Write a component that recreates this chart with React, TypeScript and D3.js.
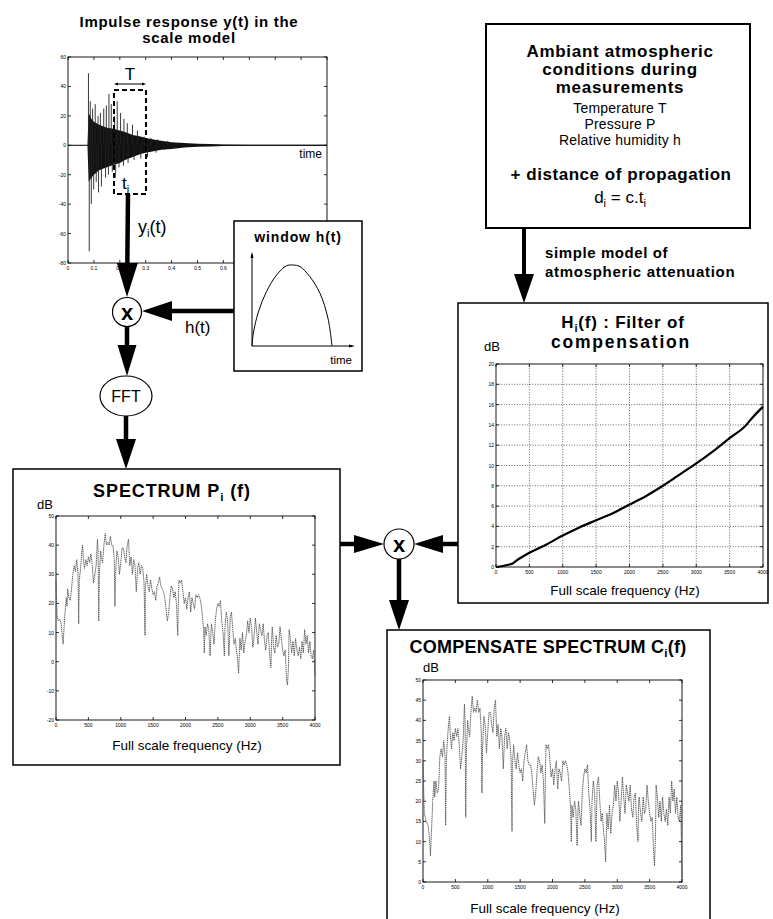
import React from 'react';
import * as d3 from 'd3';

const FONT = '"Liberation Sans", Arial, Helvetica, sans-serif';

// ---------- Data ----------
// Impulse response: dense core envelope (time s, amplitude)
const impEnvT = [0.075, 0.08, 0.09, 0.1, 0.12, 0.15, 0.18, 0.2, 0.22, 0.25, 0.28, 0.3, 0.33, 0.36, 0.4, 0.45, 0.5, 0.55, 0.6, 0.7, 0.8, 0.9, 1.0];
const impEnvUp = [0, 22, 18, 16, 14, 12, 11, 10, 9, 7, 6, 5, 4, 3, 2, 1.5, 1, 0.8, 0.5, 0.4, 0.3, 0.3, 0.3];
const impEnvLo = [0, -25, -22, -20, -17, -15, -13, -12, -10, -8, -6, -5, -4, -3, -2.5, -1.5, -1, -0.8, -0.5, -0.4, -0.3, -0.3, -0.3];
// Impulse response: individual spikes (time s, amplitude)
const impSpikes: [number, number][] = [
  [0.079, 49], [0.082, -72], [0.086, 30], [0.09, -40], [0.095, 25], [0.099, -30], [0.105, 28], [0.109, -25],
  [0.116, 20], [0.118, -32], [0.125, 22], [0.129, -28], [0.138, 25], [0.145, -22], [0.148, 27], [0.156, -20],
  [0.158, 35], [0.167, 28], [0.171, -18], [0.18, 20], [0.184, -22], [0.19, 30], [0.197, -15], [0.203, 22],
  [0.214, -14], [0.216, 18], [0.229, 15], [0.232, -12], [0.249, 14], [0.255, -10], [0.268, 10], [0.281, -9],
  [0.294, 6], [0.307, -8], [0.32, 5], [0.34, -5], [0.346, 4], [0.372, -3], [0.385, 3], [0.411, -2],
];
const impXTicks = [0, 0.1, 0.2, 0.3, 0.4, 0.5, 0.6, 0.7, 0.8, 0.9, 1];
const impYTicks = [-80, -60, -40, -20, 0, 20, 40, 60];

// Window h(t) (normalised time, normalised amplitude)
const winT = [0, 0.017, 0.08, 0.18, 0.31, 0.43, 0.51, 0.6, 0.72, 0.85, 0.95, 1.0];
const winH = [0, 0.16, 0.42, 0.67, 0.88, 0.99, 1.0, 0.98, 0.86, 0.65, 0.34, 0];

// Filter of compensation H_i(f) (Hz, dB)
const filterF = [0, 100, 200, 250, 300, 500, 750, 1000, 1250, 1500, 1750, 2000, 2250, 2500, 2750, 3000, 3250, 3500, 3750, 3800, 4000];
const filterH = [0, 0.1, 0.25, 0.35, 0.6, 1.4, 2.2, 3.1, 3.9, 4.6, 5.3, 6.15, 7.0, 8.0, 9.1, 10.2, 11.4, 12.7, 14.0, 14.4, 15.8];
const filterXTicks = [0, 500, 1000, 1500, 2000, 2500, 3000, 3500, 4000];
const filterYTicks = [0, 2, 4, 6, 8, 10, 12, 14, 16, 18, 20];

// Spectrum P_i(f) (Hz, dB)
const spectrumP: [number, number][] = [
  [0, 28], [10, 20], [20, 15], [40, 14], [60, 14.5], [80, 13], [100, 8], [110, 6], [120, 10], [140, 17], [160, 22], [170, 19],
  [180, 25], [200, 22], [220, 21], [240, 25], [260, 30], [280, 33], [300, 31], [320, 35], [340, 30], [350, 13], [360, 28],
  [380, 32], [400, 38], [410, 40], [420, 36], [440, 32], [460, 35], [480, 33], [500, 36], [520, 34], [540, 37], [560, 33],
  [580, 27], [600, 30], [620, 33], [640, 42], [650, 38], [660, 14], [670, 30], [690, 38], [700, 36], [720, 34], [740, 40],
  [760, 44], [780, 40], [800, 41], [820, 40], [840, 43], [860, 40], [880, 40], [900, 35], [910, 19], [920, 30], [940, 38],
  [960, 36], [980, 30], [1000, 34], [1020, 39], [1040, 39], [1060, 36], [1080, 34], [1100, 40], [1120, 42], [1140, 33],
  [1160, 36], [1180, 30], [1200, 35], [1220, 33], [1240, 24], [1260, 32], [1280, 34], [1300, 30], [1320, 33], [1340, 32],
  [1360, 27], [1375, 9], [1380, 25], [1400, 30], [1420, 26], [1440, 24], [1460, 28], [1480, 25], [1500, 23], [1520, 24],
  [1540, 21], [1560, 26], [1580, 27], [1600, 29], [1620, 26], [1640, 25], [1660, 24], [1680, 22], [1700, 18], [1720, 14],
  [1740, 17], [1760, 22], [1780, 26], [1800, 25], [1820, 22], [1840, 24], [1860, 20], [1880, 9], [1890, 20], [1900, 28],
  [1920, 27], [1940, 28], [1960, 24], [1980, 20], [2000, 22], [2020, 18], [2040, 22], [2060, 24], [2080, 17], [2100, 22],
  [2120, 20], [2140, 18], [2160, 23], [2180, 22], [2200, 23], [2220, 22], [2240, 20], [2260, 16], [2280, 11], [2290, 3],
  [2300, 12], [2320, 9], [2340, 13], [2360, 11], [2380, 2], [2390, 8], [2400, 13], [2420, 10], [2440, 6], [2460, 14],
  [2480, 18], [2500, 20], [2520, 19], [2540, 21], [2560, 14], [2580, 10], [2600, 2], [2610, 12], [2630, 17], [2650, 14],
  [2670, 2], [2690, 15], [2710, 17], [2730, 11], [2750, 6], [2770, 8], [2790, 3], [2800, 2], [2820, -4], [2840, 8],
  [2860, 4], [2880, 10], [2900, 3], [2920, 7], [2940, 9], [2960, 14], [2980, 10], [3000, 15], [3020, 12], [3040, 5],
  [3060, 9], [3080, 15], [3100, 10], [3120, 6], [3140, 13], [3160, 11], [3180, 9], [3200, 13], [3220, 7], [3240, 4],
  [3260, 9], [3280, 10], [3300, 2], [3320, -2], [3330, 8], [3340, 12], [3360, 5], [3380, 3], [3400, 9], [3420, 5],
  [3440, 6], [3460, 12], [3480, 8], [3500, 4], [3520, 2], [3540, 4], [3560, -6], [3575, -8], [3590, -2], [3600, 11],
  [3620, 8], [3640, 3], [3660, 7], [3680, 2], [3700, 8], [3720, 4], [3740, 2], [3760, 5], [3780, 1], [3800, 7], [3820, 3],
  [3840, 11], [3860, 6], [3880, 9], [3900, 3], [3920, 7], [3940, 2], [3960, 1], [3980, 4], [4000, -5],
];
const spectrumPXTicks = [0, 500, 1000, 1500, 2000, 2500, 3000, 3500, 4000];
const spectrumPYTicks = [-20, -10, 0, 10, 20, 30, 40, 50];

// Compensated spectrum C_i(f) (Hz, dB)
const spectrumC: [number, number][] = [
  [0, 30], [20, 17], [50, 15], [80, 14], [100, 11], [115, 6.5], [130, 12], [150, 20], [170, 25], [180, 21], [200, 25],
  [220, 22], [240, 23], [260, 31], [280, 33], [300, 31], [320, 35], [340, 31], [350, 14], [360, 30], [380, 36], [400, 40],
  [410, 41], [420, 37], [440, 33], [460, 37], [480, 35], [500, 38], [520, 36], [540, 38], [560, 34], [580, 28], [600, 31],
  [620, 35], [640, 44], [650, 40], [660, 16], [670, 32], [690, 40], [700, 38], [720, 36], [740, 42], [760, 46], [780, 42],
  [800, 43], [820, 42], [840, 45], [860, 42], [880, 43], [900, 37], [910, 22], [920, 33], [940, 41], [960, 39], [980, 32],
  [1000, 37], [1020, 42], [1040, 42], [1060, 39], [1080, 37], [1100, 43], [1120, 45], [1140, 36], [1160, 39], [1180, 33],
  [1200, 38], [1220, 36], [1240, 28], [1260, 36], [1280, 38], [1300, 33], [1320, 37], [1340, 35], [1360, 31], [1375, 12.5],
  [1380, 29], [1400, 34], [1420, 30], [1440, 28], [1460, 32], [1480, 29], [1500, 27], [1520, 28], [1540, 25], [1560, 30],
  [1580, 32], [1600, 34], [1620, 30], [1640, 29], [1660, 29], [1680, 27], [1700, 23], [1720, 19], [1740, 22], [1760, 27],
  [1780, 31], [1800, 30], [1820, 27], [1840, 29], [1860, 25], [1880, 14.5], [1890, 26], [1900, 34], [1920, 33], [1940, 34],
  [1960, 30], [1980, 26], [2000, 28], [2020, 24], [2040, 28], [2060, 30], [2080, 23], [2100, 28], [2120, 27], [2140, 25],
  [2160, 30], [2180, 29], [2200, 30], [2220, 29], [2240, 27], [2260, 23], [2280, 18], [2290, 10], [2300, 19], [2320, 16],
  [2340, 20], [2360, 18], [2380, 9], [2390, 15], [2400, 20], [2420, 17], [2440, 14], [2460, 22], [2480, 26], [2500, 28],
  [2520, 27], [2540, 29], [2560, 22], [2580, 18], [2600, 10], [2610, 20], [2630, 25], [2650, 22], [2670, 10], [2690, 24],
  [2710, 26], [2730, 20], [2750, 15], [2770, 17], [2790, 12], [2800, 11], [2820, 5], [2840, 17], [2860, 13], [2880, 19],
  [2900, 12], [2920, 17], [2940, 19], [2960, 24], [2980, 20], [3000, 25], [3020, 22], [3040, 15], [3060, 20], [3080, 26],
  [3100, 21], [3120, 17], [3140, 24], [3160, 22], [3180, 20], [3200, 24], [3220, 18], [3240, 16], [3260, 21], [3280, 22],
  [3300, 14], [3320, 10], [3330, 20], [3340, 21], [3360, 17], [3380, 15], [3400, 21], [3420, 17], [3440, 18], [3460, 24],
  [3480, 20], [3500, 17], [3520, 15], [3540, 16], [3560, 8], [3575, 4], [3590, 11], [3600, 24], [3620, 21], [3640, 16],
  [3660, 20], [3680, 15], [3700, 21], [3720, 17], [3740, 15], [3760, 18], [3780, 14], [3800, 21], [3820, 17], [3840, 25],
  [3860, 20], [3880, 23], [3900, 17], [3920, 21], [3940, 16], [3960, 15], [3980, 19], [4000, 1],
];
const spectrumCXTicks = [0, 500, 1000, 1500, 2000, 2500, 3000, 3500, 4000];
const spectrumCYTicks = [0, 5, 10, 15, 20, 25, 30, 35, 40, 45, 50];

// ---------- Helpers ----------
type Lin = d3.ScaleLinear<number, number>;

function Frame({ xs, ys, xTicks, yTicks, grid = false, fmtX = (v: number) => String(v) }: {
  xs: Lin; ys: Lin; xTicks: number[]; yTicks: number[]; grid?: boolean; fmtX?: (v: number) => string;
}) {
  const [x0, x1] = xs.range();
  const [y0, y1] = ys.range();
  const tl = 3;
  return (
    <g>
      {grid && xTicks.slice(1, -1).map((t) => (
        <line key={'gx' + t} x1={xs(t)} x2={xs(t)} y1={y0} y2={y1} stroke="#000" strokeWidth={0.6} strokeDasharray="1,1.6" />
      ))}
      {grid && yTicks.slice(1, -1).map((t) => (
        <line key={'gy' + t} x1={x0} x2={x1} y1={ys(t)} y2={ys(t)} stroke="#000" strokeWidth={0.6} strokeDasharray="1,1.6" />
      ))}
      <rect x={x0} y={y1} width={x1 - x0} height={y0 - y1} fill="none" stroke="#000" strokeWidth={0.9} />
      {xTicks.map((t) => (
        <g key={'xt' + t}>
          <line x1={xs(t)} x2={xs(t)} y1={y0} y2={y0 - tl} stroke="#000" strokeWidth={0.8} />
          <line x1={xs(t)} x2={xs(t)} y1={y1} y2={y1 + tl} stroke="#000" strokeWidth={0.8} />
          <text x={xs(t)} y={y0 + 7} fontSize={5} textAnchor="middle" fontFamily={FONT} fill="#000">{fmtX(t)}</text>
        </g>
      ))}
      {yTicks.map((t) => (
        <g key={'yt' + t}>
          <line x1={x0} x2={x0 + tl} y1={ys(t)} y2={ys(t)} stroke="#000" strokeWidth={0.8} />
          <line x1={x1} x2={x1 - tl} y1={ys(t)} y2={ys(t)} stroke="#000" strokeWidth={0.8} />
          <text x={x0 - 2} y={ys(t) + 2} fontSize={5} textAnchor="end" fontFamily={FONT} fill="#000">{t}</text>
        </g>
      ))}
    </g>
  );
}

// Thick arrow from (x1,y1) to tip (x2,y2)
function Arrow({ x1, y1, x2, y2, head = 30, half = 10, w = 5 }: { x1: number; y1: number; x2: number; y2: number; head?: number; half?: number; w?: number }) {
  const dx = x2 - x1, dy = y2 - y1;
  const len = Math.hypot(dx, dy);
  const ux = dx / len, uy = dy / len;
  const bx = x2 - ux * head, by = y2 - uy * head;
  const px = -uy, py = ux;
  const pts = `${x2},${y2} ${bx + px * half},${by + py * half} ${bx - px * half},${by - py * half}`;
  return (
    <g>
      <line x1={x1} y1={y1} x2={bx + ux * 2} y2={by + uy * 2} stroke="#000" strokeWidth={w} />
      <polygon points={pts} fill="#000" />
    </g>
  );
}

function Sub({ base, sub, after, size }: { base: string; sub: string; after: string; size: number }) {
  return (
    <>
      {base}
      <tspan fontSize={size * 0.65} dy={size * 0.22}>{sub}</tspan>
      <tspan dy={-size * 0.22}>{after}</tspan>
    </>
  );
}

export default function App() {
  // Impulse response plot
  const ix = d3.scaleLinear().domain([0, 1]).range([68, 327]);
  const iy = d3.scaleLinear().domain([-80, 60]).range([263, 57]);
  const envArea = d3.area<number>()
    .x((i) => ix(impEnvT[i]))
    .y0((i) => iy(impEnvLo[i]))
    .y1((i) => iy(impEnvUp[i]))(impEnvT.map((_, i) => i)) || '';

  // Window plot
  const wx = d3.scaleLinear().domain([0, 1]).range([252, 332]);
  const wy = d3.scaleLinear().domain([0, 1]).range([346, 265]);
  const winPath = d3.line<number>().x((i) => wx(winT[i])).y((i) => wy(winH[i])).curve(d3.curveCatmullRom)(winT.map((_, i) => i)) || '';

  // Filter
  const hx = d3.scaleLinear().domain([0, 4000]).range([496, 763]);
  const hy = d3.scaleLinear().domain([0, 20]).range([567, 364]);
  const hPath = d3.line<number>().x((i) => hx(filterF[i])).y((i) => hy(filterH[i])).curve(d3.curveMonotoneX)(filterF.map((_, i) => i)) || '';

  // Spectrum P
  const px = d3.scaleLinear().domain([0, 4000]).range([56, 315]);
  const py = d3.scaleLinear().domain([-20, 50]).range([720, 516]);
  const pPath = d3.line<[number, number]>().x((d) => px(d[0])).y((d) => py(d[1]))(spectrumP) || '';

  // Spectrum C
  const cx = d3.scaleLinear().domain([0, 4000]).range([423, 682]);
  const cy = d3.scaleLinear().domain([0, 50]).range([882, 680]);
  const cPath = d3.line<[number, number]>().x((d) => cx(d[0])).y((d) => cy(d[1]))(spectrumC) || '';

  const bold = { fontFamily: FONT, fontWeight: 700, fill: '#000' } as const;
  const reg = { fontFamily: FONT, fill: '#000' } as const;

  return (
    <svg width={773} height={919} style={{ position: 'absolute', left: 0, top: 0, background: '#fff' }}>
      <rect x={0} y={0} width={773} height={919} fill="#fff" />

      {/* ---------------- Impulse response ---------------- */}
      <text x={189} y={27} fontSize={15} letterSpacing={0.7} textAnchor="middle" {...bold}>Impulse response y(t) in the</text>
      <text x={189} y={43} fontSize={15} letterSpacing={0.7} textAnchor="middle" {...bold}>scale model</text>
      <Frame xs={ix} ys={iy} xTicks={impXTicks} yTicks={impYTicks} />
      <line x1={ix(0)} x2={ix(1)} y1={iy(0)} y2={iy(0)} stroke="#000" strokeWidth={1} />
      <path d={envArea} fill="#111" />
      {impSpikes.map(([t, v], i) => (
        <line key={i} x1={ix(t)} x2={ix(t)} y1={iy(0)} y2={iy(v)} stroke="#222" strokeWidth={0.9} />
      ))}
      <text x={322} y={158} fontSize={12} textAnchor="end" {...reg}>time</text>
      {/* dashed window selection */}
      <rect x={116} y={172} width={28} height={21} fill="#fff" />
      <rect x={114} y={90} width={32} height={104} fill="none" stroke="#000" strokeWidth={2} strokeDasharray="5,3" />
      <line x1={116} x2={144} y1={84} y2={84} stroke="#000" strokeWidth={1} />
      <polygon points="114,84 118,82.5 118,85.5" fill="#000" />
      <polygon points="146,84 142,82.5 142,85.5" fill="#000" />
      <text x={130} y={80} fontSize={17} textAnchor="middle" {...reg}>T</text>
      <text x={122} y={189} fontSize={17} {...reg}><Sub base="t" sub="i" after="" size={17} /></text>
      <text x={138} y={233} fontSize={18} {...reg}><Sub base="y" sub="i" after="(t)" size={18} /></text>

      <Arrow x1={128} y1={194} x2={127} y2={297} head={34} half={10.5} w={4.5} />

      {/* multiply circle 1 */}
      <circle cx={127} cy={312} r={14.5} fill="#fff" stroke="#000" strokeWidth={1.2} />
      <text x={127} y={320} fontSize={22} textAnchor="middle" {...bold}>x</text>

      {/* window box */}
      <rect x={234} y={221} width={128} height={150} fill="#fff" stroke="#000" strokeWidth={1.5} />
      <text x={298} y={242} fontSize={14} letterSpacing={0.9} textAnchor="middle" {...bold}>window h(t)</text>
      <line x1={252} x2={252} y1={346} y2={254} stroke="#000" strokeWidth={1} />
      <polygon points="252,252 250.5,258 253.5,258" fill="#000" />
      <line x1={252} x2={352} y1={346} y2={346} stroke="#000" strokeWidth={1} />
      <polygon points="355,346 349,344.5 349,347.5" fill="#000" />
      <path d={winPath} fill="none" stroke="#000" strokeWidth={1} />
      <text x={352} y={364} fontSize={11.5} textAnchor="end" {...reg}>time</text>

      <Arrow x1={234} y1={311} x2={142} y2={311} head={30} half={10} w={4.5} />
      <text x={185} y={333} fontSize={17} {...reg}>h(t)</text>

      <Arrow x1={127} y1={327} x2={127} y2={376} head={31} half={9.5} w={4.5} />

      {/* FFT */}
      <ellipse cx={126} cy={396} rx={26} ry={20} fill="#fff" stroke="#000" strokeWidth={1.2} />
      <text x={126} y={402} fontSize={16} textAnchor="middle" {...reg}>FFT</text>

      <Arrow x1={126} y1={416} x2={126} y2={469} head={30} half={10} w={4.5} />

      {/* ---------------- Spectrum P ---------------- */}
      <rect x={13} y={469} width={327} height={296} fill="none" stroke="#000" strokeWidth={1.5} />
      <text x={172} y={497} fontSize={18} letterSpacing={0.9} textAnchor="middle" {...bold}><Sub base="SPECTRUM P" sub="i" after=" (f)" size={18} /></text>
      <text x={37} y={509} fontSize={13} {...reg}>dB</text>
      <Frame xs={px} ys={py} xTicks={spectrumPXTicks} yTicks={spectrumPYTicks} />
      <path d={pPath} fill="none" stroke="#4a4a4a" strokeWidth={0.9} strokeDasharray="1.4,0.7" />
      <text x={187} y={750} fontSize={13.5} textAnchor="middle" {...reg}>Full scale frequency (Hz)</text>

      {/* ---------------- Atmospheric box ---------------- */}
      <rect x={486} y={24} width={264} height={204} fill="#fff" stroke="#000" strokeWidth={2} />
      <text x={620} y={57} fontSize={17} letterSpacing={0.7} textAnchor="middle" {...bold}>Ambiant atmospheric</text>
      <text x={620} y={75} fontSize={17} letterSpacing={0.7} textAnchor="middle" {...bold}>conditions during</text>
      <text x={620} y={93} fontSize={17} letterSpacing={0.7} textAnchor="middle" {...bold}>measurements</text>
      <text x={620} y={113} fontSize={14} letterSpacing={0.2} textAnchor="middle" {...reg}>Temperature T</text>
      <text x={620} y={129} fontSize={14} letterSpacing={0.2} textAnchor="middle" {...reg}>Pressure P</text>
      <text x={620} y={145} fontSize={14} letterSpacing={0.2} textAnchor="middle" {...reg}>Relative humidity h</text>
      <text x={621} y={180} fontSize={17} letterSpacing={0.55} textAnchor="middle" {...bold}>+ distance of propagation</text>
      <text x={620} y={203} fontSize={17} textAnchor="middle" {...reg}><Sub base="d" sub="i" after=" = c.t" size={17} /><tspan fontSize={11} dy={4}>i</tspan></text>

      <Arrow x1={524} y1={228} x2={524} y2={303} head={29} half={10} w={4} />
      <text x={545} y={258} fontSize={15} letterSpacing={0.6} {...bold}>simple model of</text>
      <text x={545} y={277} fontSize={15} letterSpacing={0.7} {...bold}>atmospheric attenuation</text>

      {/* ---------------- Filter H ---------------- */}
      <rect x={458} y={303} width={310} height={300} fill="#fff" stroke="#000" strokeWidth={1.5} />
      <text x={623} y={328} fontSize={17} letterSpacing={0.8} textAnchor="middle" {...bold}><Sub base="H" sub="i" after="(f) : Filter of" size={17} /></text>
      <text x={621} y={348} fontSize={17.5} letterSpacing={1.8} textAnchor="middle" {...bold}>compensation</text>
      <text x={484} y={351} fontSize={13} {...reg}>dB</text>
      <Frame xs={hx} ys={hy} xTicks={filterXTicks} yTicks={filterYTicks} grid />
      <path d={hPath} fill="none" stroke="#000" strokeWidth={2.2} />
      <text x={625} y={595} fontSize={13.5} textAnchor="middle" {...reg}>Full scale frequency (Hz)</text>

      {/* ---------------- middle multiply ---------------- */}
      <Arrow x1={340} y1={544} x2={384} y2={544} head={30} half={9} w={4.5} />
      <Arrow x1={458} y1={544} x2={414} y2={544} head={29} half={9} w={4.5} />
      <circle cx={399} cy={544} r={15} fill="#fff" stroke="#000" strokeWidth={1.2} />
      <text x={399} y={552} fontSize={22} textAnchor="middle" {...bold}>x</text>
      <Arrow x1={399} y1={559} x2={399} y2={630} head={30} half={10} w={4.5} />

      {/* ---------------- Compensated spectrum C ---------------- */}
      <rect x={387} y={630} width={323} height={300} fill="none" stroke="#000" strokeWidth={1.5} />
      <text x={548} y={653} fontSize={18} letterSpacing={0.25} textAnchor="middle" {...bold}><Sub base="COMPENSATE SPECTRUM C" sub="i" after="(f)" size={18} /></text>
      <text x={423} y={672} fontSize={13} {...reg}>dB</text>
      <Frame xs={cx} ys={cy} xTicks={spectrumCXTicks} yTicks={spectrumCYTicks} />
      <path d={cPath} fill="none" stroke="#4a4a4a" strokeWidth={0.9} strokeDasharray="1.4,0.7" />
      <text x={545} y={913} fontSize={13.5} textAnchor="middle" {...reg}>Full scale frequency (Hz)</text>
    </svg>
  );
}
